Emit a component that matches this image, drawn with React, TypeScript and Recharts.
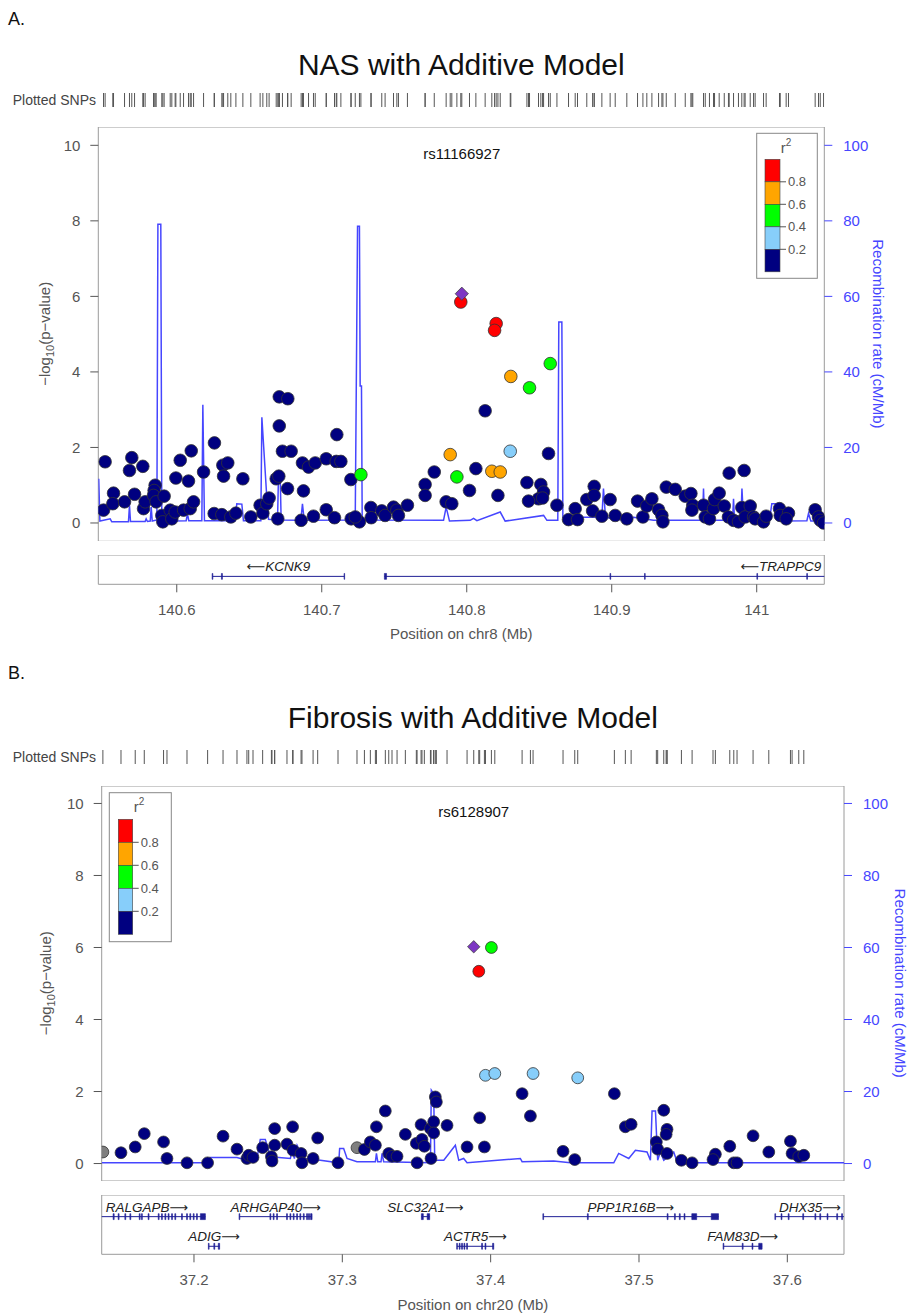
import React from 'react'
import { ComposedChart, Scatter, Line, XAxis, YAxis, ReferenceArea, ReferenceLine } from 'recharts'

const FONT = '"Liberation Sans", Arial, Helvetica, sans-serif'
const W = 912
const TEXT_GRAY = '#555555'
const FRAME = '#9a9a9a'
const RECOMB_BLUE = '#4646ff'
const GENE_BLUE = '#1f1f96'
const LEAD_PURPLE = '#7d37c3'
const NO_LD_GRAY = '#7f7f7f'

// r2 legend
const ldBreaks = [0.2, 0.4, 0.6, 0.8]
const ldColors = ['#000080', '#87cefa', '#00ff00', '#ffa500', '#ff0000']

const yTicks = [0, 2, 4, 6, 8, 10]
const recombTicks = [0, 20, 40, 60, 80, 100]
const yDomain: [number, number] = [-0.485, 10.485]
const recombDomain: [number, number] = [-4.85, 104.85]

// [position (Mb), -log10(p), r2]  r2: 1 = index SNP, null = no LD info
type Snp = [number, number, number | null]
type Gene = { name: string; strand: '+' | '-'; row: number; start: number; end: number; exons: [number, number][] }

// ---------- Panel A : NAS, chr8 ----------
const xTicksA = [140.6, 140.7, 140.8, 140.9, 141]
const domainA: [number, number] = [140.5459, 141.0466]

const snpsA: Snp[] = [
  [140.5506, 1.62, 0.1], [140.5495, 0.34, 0.1], [140.5564, 0.79, 0.1], [140.5559, 0.51, 0.1], [140.564, 0.56, 0.1],
  [140.569, 1.73, 0.1], [140.5674, 1.39, 0.1], [140.5766, 1.5, 0.1], [140.5709, 0.76, 0.1], [140.5771, 0.38, 0.1],
  [140.5782, 0.56, 0.1], [140.5851, 1.0, 0.1], [140.5844, 0.86, 0.1], [140.584, 0.73, 0.1], [140.5858, 0.56, 0.1],
  [140.5913, 0.71, 0.1], [140.5897, 0.2, 0.1], [140.5904, 0.03, 0.1], [140.5955, 0.34, 0.1], [140.5966, 0.11, 0.1],
  [140.5989, 0.29, 0.1], [140.5994, 1.19, 0.1], [140.6024, 1.66, 0.1], [140.6081, 1.11, 0.1], [140.61, 1.91, 0.1],
  [140.6047, 0.34, 0.1], [140.6093, 0.38, 0.1], [140.6116, 0.56, 0.1], [140.6185, 1.35, 0.1], [140.626, 2.12, 0.1],
  [140.6258, 0.25, 0.1], [140.6311, 0.22, 0.1], [140.6318, 1.53, 0.1], [140.6352, 1.59, 0.1], [140.6323, 1.24, 0.1],
  [140.6373, 0.16, 0.1], [140.6408, 0.26, 0.1], [140.6456, 1.17, 0.1], [140.6511, 0.16, 0.1], [140.6575, 0.47, 0.1],
  [140.6594, 0.26, 0.1], [140.6621, 0.51, 0.1], [140.6637, 0.66, 0.1], [140.6686, 1.17, 0.1], [140.6704, 1.24, 0.1],
  [140.6707, 3.34, 0.1], [140.6766, 3.29, 0.1], [140.6707, 2.57, 0.1], [140.6729, 1.9, 0.1], [140.6789, 1.9, 0.1],
  [140.6697, 0.11, 0.1], [140.6764, 0.91, 0.1], [140.6867, 1.59, 0.1], [140.6909, 1.48, 0.1], [140.6955, 1.59, 0.1],
  [140.6874, 0.85, 0.1], [140.6858, 0.07, 0.1], [140.6943, 0.18, 0.1], [140.7031, 1.7, 0.1], [140.7104, 2.34, 0.1],
  [140.71, 1.63, 0.1], [140.7132, 1.63, 0.1], [140.7031, 0.35, 0.1], [140.7088, 0.14, 0.1], [140.7201, 1.15, 0.1],
  [140.727, 1.28, 0.5], [140.7203, 0.11, 0.1], [140.726, 0.03, 0.1], [140.7231, 0.16, 0.1], [140.7339, 0.41, 0.1],
  [140.7341, 0.14, 0.1], [140.7414, 0.32, 0.1], [140.7437, 0.2, 0.1], [140.7495, 0.42, 0.1], [140.7518, 0.34, 0.1],
  [140.7529, 0.2, 0.1], [140.7591, 0.47, 0.1], [140.7713, 1.02, 0.1], [140.7713, 0.73, 0.1], [140.7776, 1.35, 0.1],
  [140.7858, 0.56, 0.1], [140.7897, 0.51, 0.1], [140.7886, 1.81, 0.7], [140.7932, 1.22, 0.5], [140.7966, 6.07, 1],
  [140.7959, 5.85, 0.9], [140.8203, 5.28, 0.9], [140.8192, 5.1, 0.9], [140.8304, 3.88, 0.7], [140.8433, 3.58, 0.5],
  [140.8576, 4.22, 0.5], [140.8127, 2.97, 0.1], [140.83, 1.9, 0.3], [140.8564, 1.84, 0.1], [140.8063, 1.44, 0.1],
  [140.8019, 0.86, 0.1], [140.8173, 1.37, 0.7], [140.8231, 1.35, 0.7], [140.8215, 0.73, 0.1], [140.8415, 1.07, 0.1],
  [140.8511, 1.02, 0.1], [140.853, 0.82, 0.1], [140.8495, 0.64, 0.1], [140.8523, 0.66, 0.1], [140.8426, 0.58, 0.1],
  [140.8622, 0.47, 0.1], [140.8702, 0.09, 0.1], [140.8748, 0.38, 0.1], [140.8764, 0.09, 0.1], [140.8828, 0.62, 0.1],
  [140.8879, 0.97, 0.1], [140.8879, 0.73, 0.1], [140.8868, 0.32, 0.1], [140.8932, 0.18, 0.1], [140.8989, 0.62, 0.1],
  [140.9024, 0.2, 0.1], [140.9104, 0.11, 0.1], [140.9178, 0.58, 0.1], [140.9215, 0.16, 0.1], [140.9242, 0.45, 0.1],
  [140.9277, 0.64, 0.1], [140.9323, 0.35, 0.1], [140.9346, 0.2, 0.1], [140.9353, 0.03, 0.1], [140.9376, 0.95, 0.1],
  [140.9438, 0.89, 0.1], [140.9507, 0.71, 0.1], [140.9546, 0.78, 0.1], [140.9559, 0.47, 0.1], [140.9553, 0.34, 0.1],
  [140.9633, 0.47, 0.1], [140.9645, 0.16, 0.1], [140.9674, 0.11, 0.1], [140.9702, 0.38, 0.1], [140.9709, 0.62, 0.1],
  [140.9741, 0.79, 0.1], [140.9776, 0.45, 0.1], [140.981, 1.32, 0.1], [140.9913, 1.39, 0.1], [140.9805, 0.16, 0.1],
  [140.984, 0.07, 0.1], [140.9874, 0.03, 0.1], [140.9897, 0.41, 0.1], [140.992, 0.16, 0.1], [140.9955, 0.45, 0.1],
  [140.9978, 0.16, 0.1], [140.9989, 0.11, 0.1], [141.0047, 0.03, 0.1], [141.0065, 0.18, 0.1], [141.0157, 0.38, 0.1],
  [141.0162, 0.2, 0.1], [141.0219, 0.26, 0.1], [141.0203, 0.11, 0.1], [141.0403, 0.35, 0.1], [141.0426, 0.16, 0.1],
  [141.0438, 0.07, 0.1], [141.0461, 0.0, 0.1],
]

// [position (Mb), recombination rate (cM/Mb)]
const recombA: [number, number][] = [
  [140.5462, 11.7], [140.547, 0.5], [140.5541, 1.1], [140.5552, 0.3], [140.5667, 0.3], [140.5674, 4.7], [140.5681, 0.4],
  [140.5782, 0.4], [140.5789, 1.1], [140.5798, 0.4], [140.5817, 0.5], [140.5824, 4.2], [140.5831, 0.5], [140.5863, 0.8],
  [140.587, 79.1], [140.589, 79.1], [140.5897, 0.6], [140.5966, 1.0], [140.5978, 0.5], [140.6065, 0.6], [140.6074, 2.4],
  [140.6083, 0.6], [140.6173, 0.6], [140.618, 31.3], [140.6191, 0.6], [140.6403, 0.6], [140.6414, 5.1], [140.6449, 5.0],
  [140.646, 0.6], [140.658, 0.6], [140.6587, 28.0], [140.6621, 6.8], [140.6633, 1.0], [140.6695, 0.8], [140.6702, 13.0],
  [140.6713, 13.0], [140.672, 0.8], [140.6856, 0.7], [140.6867, 5.1], [140.6879, 0.7], [140.7231, 0.8], [140.7247, 78.6],
  [140.726, 78.6], [140.7265, 36.3], [140.7274, 36.3], [140.7279, 0.8], [140.784, 0.7], [140.7858, 4.2], [140.7881, 0.5],
  [140.8024, 0.7], [140.8047, 1.2], [140.807, 0.6], [140.8231, 2.9], [140.8265, 0.5], [140.853, 2.0], [140.8553, 0.7],
  [140.8628, 0.7], [140.8635, 53.2], [140.8656, 53.2], [140.8663, 1.5], [140.8932, 1.5], [140.8943, 9.1], [140.8957, 1.5],
  [140.9081, 0.7], [140.915, 1.5], [140.9288, 0.7], [140.9626, 0.7], [140.9633, 9.1], [140.964, 0.7], [140.9833, 0.7],
  [140.984, 6.4], [140.9847, 0.7], [140.9891, 0.7], [140.9898, 9.1], [140.9909, 0.9], [141.0088, 0.7], [141.0104, 5.1],
  [141.0134, 5.1], [141.0157, 0.5], [141.0346, 0.6], [141.0357, 2.5], [141.0373, 0.5], [141.0466, 0.5],
]

const genesA: Gene[] = [
  { name: 'KCNK9', strand: '-', row: 0, start: 140.6246, end: 140.7156,
    exons: [[140.6244, 140.6249], [140.6308, 140.6315], [140.7154, 140.7158]] },
  { name: 'TRAPPC9', strand: '-', row: 0, start: 140.7432, end: 141.4687,
    exons: [[140.7432, 140.7447], [140.8988, 140.8993], [140.9226, 140.9231], [141.0001, 141.0006], [141.0345, 141.035]] },
]

// ---------- Panel B : Fibrosis, chr20 ----------
const xTicksB = [37.2, 37.3, 37.4, 37.5, 37.6]
const domainB: [number, number] = [37.1378, 37.6382]

const snpsB: Snp[] = [
  [37.1386, 0.32, null], [37.1508, 0.3, 0.1], [37.1604, 0.46, 0.1], [37.1665, 0.83, 0.1], [37.1795, 0.6, 0.1],
  [37.1818, 0.14, 0.1], [37.1953, 0.02, 0.1], [37.2092, 0.02, 0.1], [37.2196, 0.76, 0.1], [37.229, 0.4, 0.1],
  [37.2357, 0.14, 0.1], [37.2369, 0.23, 0.1], [37.2398, 0.17, 0.1], [37.2463, 0.44, 0.1], [37.2544, 0.97, 0.1],
  [37.2544, 0.51, 0.1], [37.2522, 0.19, 0.1], [37.2526, 0.07, 0.1], [37.2627, 0.54, 0.1], [37.2665, 1.02, 0.1],
  [37.2668, 0.37, 0.1], [37.2722, 0.28, 0.1], [37.2728, 0.02, 0.1], [37.2803, 0.14, 0.1], [37.2834, 0.71, 0.1],
  [37.2971, 0.02, 0.1], [37.3099, 0.44, null], [37.3149, 0.39, 0.1], [37.3189, 0.6, 0.1], [37.3223, 0.51, 0.1],
  [37.323, 1.02, 0.1], [37.329, 1.46, 0.1], [37.3313, 0.28, 0.1], [37.3335, 0.2, 0.1], [37.3369, 0.2, 0.1],
  [37.3425, 0.81, 0.1], [37.3499, 0.56, 0.1], [37.3504, 0.02, 0.1], [37.3531, 1.08, 0.1], [37.3537, 0.67, 0.1],
  [37.3553, 0.48, 0.1], [37.3594, 0.97, 0.1], [37.3598, 0.14, 0.1], [37.3616, 1.16, 0.1], [37.3616, 0.85, 0.1],
  [37.3627, 1.85, 0.1], [37.3634, 1.71, 0.1], [37.3706, 1.06, 0.1], [37.3841, 0.46, 0.1], [37.3886, 6.02, 1],
  [37.4005, 6.0, 0.5], [37.392, 5.34, 0.9], [37.3926, 1.27, 0.1], [37.3958, 0.46, 0.1], [37.3965, 2.45, 0.3],
  [37.4028, 2.5, 0.3], [37.4286, 2.5, 0.3], [37.4587, 2.38, 0.3], [37.4212, 1.94, 0.1], [37.4268, 1.32, 0.1],
  [37.4488, 0.34, 0.1], [37.4567, 0.11, 0.1], [37.4834, 1.94, 0.1], [37.4908, 1.02, 0.1], [37.4947, 1.09, 0.1],
  [37.5167, 1.48, 0.1], [37.5189, 0.95, 0.1], [37.5183, 0.81, 0.1], [37.5117, 0.6, 0.1], [37.5126, 0.4, 0.1],
  [37.5189, 0.28, 0.1], [37.5286, 0.09, 0.1], [37.5358, 0.02, 0.1], [37.5515, 0.26, 0.1], [37.5499, 0.11, 0.1],
  [37.5612, 0.48, 0.1], [37.5639, 0.02, 0.1], [37.5661, 0.02, 0.1], [37.5769, 0.77, 0.1], [37.5875, 0.32, 0.1],
  [37.6021, 0.62, 0.1], [37.6032, 0.28, 0.1], [37.6077, 0.19, 0.1], [37.6111, 0.23, 0.1],
]

const recombB: [number, number][] = [
  [37.1378, 0.2], [37.2099, 0.2], [37.211, 1.7], [37.229, 1.7], [37.2313, 1.4], [37.2425, 1.4], [37.2447, 6.7],
  [37.2481, 6.7], [37.2515, 1.9], [37.265, 1.4], [37.2661, 3.7], [37.2677, 1.4], [37.2695, 5.1], [37.274, 1.4],
  [37.2852, 0.9], [37.2976, 0.2], [37.2982, 4.2], [37.3009, 4.2], [37.3032, 1.4], [37.3099, 0.5], [37.3223, 0.5],
  [37.323, 2.8], [37.3239, 0.5], [37.3261, 0.5], [37.3268, 2.8], [37.3279, 0.5], [37.3594, 0.2], [37.36, 20.4],
  [37.3616, 19.4], [37.3623, 0.9], [37.3684, 0.9], [37.3762, 5.1], [37.3785, 0.9], [37.3818, 1.4], [37.3841, 0.2],
  [37.42, 1.4], [37.4212, 0.5], [37.4425, 0.7], [37.4537, 0.2], [37.483, 0.2], [37.4863, 2.8], [37.4931, 1.4],
  [37.4976, 3.7], [37.5054, 3.2], [37.5077, 0.9], [37.5088, 14.6], [37.5111, 14.6], [37.5126, 0.9], [37.5144, 3.2],
  [37.5167, 0.9], [37.5234, 3.2], [37.5257, 0.5], [37.5302, 0.2], [37.6382, 0.2],
]

const genesB: Gene[] = [
  { name: 'RALGAPB', strand: '+', row: 0, start: 37.101, end: 37.2077,
    exons: [[37.1455, 37.1462], [37.1489, 37.1495], [37.1534, 37.154], [37.1568, 37.1574], [37.1631, 37.1637],
      [37.1646, 37.1652], [37.1691, 37.1697], [37.1759, 37.1765], [37.1781, 37.1787], [37.1804, 37.181],
      [37.1826, 37.1832], [37.1849, 37.1855], [37.1871, 37.1877], [37.1916, 37.1922], [37.195, 37.1956],
      [37.1972, 37.1978], [37.1995, 37.2001], [37.2017, 37.2023], [37.2043, 37.2077]] },
  { name: 'ARHGAP40', strand: '+', row: 0, start: 37.2306, end: 37.2796,
    exons: [[37.2304, 37.2309], [37.2512, 37.2518], [37.2534, 37.254], [37.2557, 37.2563], [37.2624, 37.263],
      [37.2647, 37.2653], [37.2669, 37.2675], [37.2692, 37.2698], [37.2714, 37.272], [37.2737, 37.2743],
      [37.2759, 37.2766], [37.2772, 37.2779], [37.2786, 37.2796]] },
  { name: 'SLC32A1', strand: '+', row: 0, start: 37.3533, end: 37.3589,
    exons: [[37.3533, 37.3546], [37.3572, 37.3589]] },
  { name: 'PPP1R16B', strand: '+', row: 0, start: 37.4354, end: 37.5536,
    exons: [[37.4352, 37.4357], [37.4652, 37.4658], [37.519, 37.5196], [37.5239, 37.5245], [37.5272, 37.5278],
      [37.5304, 37.531], [37.5356, 37.5389], [37.5487, 37.5536]] },
  { name: 'DHX35', strand: '+', row: 0, start: 37.5918, end: 37.668,
    exons: [[37.5916, 37.5921], [37.5958, 37.5964], [37.6006, 37.6012], [37.6104, 37.611], [37.6186, 37.6192],
      [37.6219, 37.6225], [37.6268, 37.6274], [37.6333, 37.6339], [37.6366, 37.6372]] },
  { name: 'ADIG', strand: '+', row: 1, start: 37.2099, end: 37.2173,
    exons: [[37.2097, 37.2102], [37.2134, 37.214], [37.2164, 37.2173]] },
  { name: 'ACTR5', strand: '+', row: 1, start: 37.3773, end: 37.4021,
    exons: [[37.3771, 37.3776], [37.3788, 37.3794], [37.3804, 37.381], [37.382, 37.3826], [37.3838, 37.3844],
      [37.3939, 37.3945], [37.3962, 37.3968], [37.4013, 37.4021]] },
  { name: 'FAM83D', strand: '+', row: 1, start: 37.5569, end: 37.583,
    exons: [[37.5567, 37.5572], [37.5696, 37.5702], [37.5762, 37.5768], [37.5807, 37.583]] },
]

const panelA = {
  letter: 'A.', title: 'NAS with Additive Model', lead: 'rs11166927', chr: 'chr8',
  snps: snpsA, recomb: recombA, genes: genesA, geneRows: 1, domain: domainA, xTicks: xTicksA,
  L: {
    letterY: 25, titleY: 75, titleSize: 30, rugY: 100,
    left: 98.3, right: 824.3, top: 126.7, bottom: 541,
    geneTop: 555, geneBottom: 584.3, xTitleY: 639,
    leftTitleX: 45, rightTitleX: 878, pointR: 6.3,
    legend: { x: 756.7, y: 133.3, w: 60.6, h: 145, barX: 765, barY: 159.3, barW: 15, segH: 22.5, r2X: 786, r2Y: 153 },
  },
}

const panelB = {
  letter: 'B.', title: 'Fibrosis with Additive Model', lead: 'rs6128907', chr: 'chr20',
  snps: snpsB, recomb: recombB, genes: genesB, geneRows: 2, domain: domainB, xTicks: xTicksB,
  L: {
    letterY: 679, titleY: 728, titleSize: 30, rugY: 757,
    left: 101.7, right: 844, top: 785.7, bottom: 1180.7,
    geneTop: 1195, geneBottom: 1254.3, xTitleY: 1310,
    leftTitleX: 46, rightTitleX: 900, pointR: 5.9,
    legend: { x: 109.3, y: 792.7, w: 62, h: 149, barX: 118.3, barY: 819.3, barW: 14.4, segH: 23, r2X: 139, r2Y: 812 },
  },
}

function ldColor(r2: number | null) {
  if (r2 == null) return NO_LD_GRAY
  let i = 0
  while (i < ldBreaks.length && r2 >= ldBreaks[i]) i++
  return ldColors[i]
}

function Panel({ cfg }: { cfg: typeof panelA }) {
  const L = cfg.L
  const plotH = L.bottom - L.top
  const midY = L.top + plotH / 2
  const points = [...cfg.snps]
    .sort((a, b) => (a[2] ?? -1) - (b[2] ?? -1))
    .map(([pos, logp, r2]) => ({ pos, logp, r2 }))
  const recomb = cfg.recomb.map(([pos, rate]) => ({ pos, rate }))
  const lead = cfg.snps.find((s) => s[2] === 1)!
  const rug = cfg.snps.map(([pos]) => ({ pos, y: 0 }))
  const [d0, d1] = cfg.domain
  const clamp = (v: number) => Math.min(d1, Math.max(d0, v))

  const rows = cfg.geneRows
  const geneH = L.geneBottom - L.geneTop
  const rowY = (r: number) => rows - r - 1 + 0.27
  const geneLabels = cfg.genes.map((g) => ({
    pos: clamp((g.start + g.end) / 2),
    y: rowY(g.row),
    name: g.name,
    strand: g.strand,
  }))

  const r = L.pointR
  const dotShape = (p: any) => {
    const { cx, cy, payload } = p
    if (cx == null || cy == null) return <g />
    if (payload.r2 === 1) {
      const d = r * 1.05
      return (
        <path d={`M${cx},${cy - d}L${cx + d},${cy}L${cx},${cy + d}L${cx - d},${cy}Z`}
          fill={LEAD_PURPLE} stroke="#444" strokeWidth={0.8} />
      )
    }
    return <circle cx={cx} cy={cy} r={r} fill={ldColor(payload.r2)} stroke="#333" strokeWidth={0.8} />
  }
  const rsShape = (p: any) => (
    <text x={p.cx} y={p.cy} textAnchor="middle" dominantBaseline="central" fontSize={15} fill="#111" fontFamily={FONT}>
      {cfg.lead}
    </text>
  )
  const rugShape = (p: any) => <line x1={p.cx} x2={p.cx} y1={p.cy - 7} y2={p.cy + 7} stroke="#555" strokeWidth={1} />
  const geneLabelShape = (p: any) => {
    const fs = 13.5
    const { name, strand } = p.payload
    const est = (name.length * 0.66 + 1.2) * fs
    let x = p.cx
    let anchor = 'middle'
    if (x + est / 2 > L.right - 2) { x = L.right - 3; anchor = 'end' }
    else if (x - est / 2 < L.left + 2) { x = L.left + 4; anchor = 'start' }
    const arrow = (
      <tspan fontFamily="DejaVu Sans" fontStyle="normal" fontSize={13}>{strand === '+' ? '\u27F6' : '\u27F5'}</tspan>
    )
    return (
      <text x={x} y={p.cy - 5} textAnchor={anchor} fontSize={fs} fontStyle="italic" fill="#222" fontFamily={FONT}>
        {strand === '-' && arrow}
        {name}
        {strand === '+' && arrow}
      </text>
    )
  }

  const tickStyle = { fill: TEXT_GRAY, fontSize: 15, fontFamily: FONT }
  const lg = L.legend

  return (
    <>
      {/* Plotted SNPs rug */}
      <div style={{ position: 'absolute', left: 0, top: L.rugY - 8 }}>
        <ComposedChart width={W} height={16} margin={{ top: 0, bottom: 0, left: L.left, right: W - L.right }}>
          <XAxis type="number" dataKey="pos" domain={cfg.domain} allowDataOverflow hide />
          <YAxis type="number" domain={[-1, 1]} hide />
          <Scatter data={rug} dataKey="y" shape={rugShape} isAnimationActive={false} />
        </ComposedChart>
      </div>

      {/* association plot */}
      <div style={{ position: 'absolute', left: 0, top: L.top }}>
        <ComposedChart width={W} height={plotH} margin={{ top: 0, bottom: 0, left: 0, right: 0 }}>
          <XAxis type="number" dataKey="pos" domain={cfg.domain} allowDataOverflow hide />
          <YAxis yAxisId="left" orientation="left" type="number" domain={yDomain} allowDataOverflow ticks={yTicks}
            width={L.left} axisLine={false} tickSize={8} tickMargin={10} tickLine={{ stroke: TEXT_GRAY }}
            tick={tickStyle} interval={0} />
          <YAxis yAxisId="right" orientation="right" type="number" domain={recombDomain} allowDataOverflow
            ticks={recombTicks} width={W - L.right} axisLine={false} tickSize={8} tickMargin={11}
            tickLine={{ stroke: RECOMB_BLUE }} tick={{ ...tickStyle, fill: RECOMB_BLUE }} interval={0} />
          <ReferenceArea yAxisId="left" x1={d0} x2={d1} y1={yDomain[0]} y2={yDomain[1]} fill="none"
            stroke={FRAME} strokeWidth={1} ifOverflow="visible" />
          <Line yAxisId="right" data={recomb} dataKey="rate" type="linear" dot={false} stroke={RECOMB_BLUE}
            strokeWidth={1.5} isAnimationActive={false} />
          <Scatter yAxisId="left" data={points} dataKey="logp" shape={dotShape} isAnimationActive={false} />
          <Scatter yAxisId="left" data={[{ pos: lead[0], logp: 9.79 }]} dataKey="logp" shape={rsShape}
            isAnimationActive={false} />
        </ComposedChart>
      </div>

      {/* gene track + position axis */}
      <div style={{ position: 'absolute', left: 0, top: L.geneTop }}>
        <ComposedChart width={W} height={geneH + 40} margin={{ top: 0, bottom: 0, left: L.left, right: W - L.right }}>
          <XAxis type="number" dataKey="pos" domain={cfg.domain} allowDataOverflow ticks={cfg.xTicks} interval={0}
            height={40} axisLine={false} tickSize={8} tickMargin={12} tickLine={{ stroke: TEXT_GRAY }} tick={tickStyle} />
          <YAxis type="number" domain={[0, rows]} allowDataOverflow hide />
          <ReferenceArea x1={d0} x2={d1} y1={0} y2={rows} fill="none" stroke={FRAME} strokeWidth={1} ifOverflow="visible" />
          {cfg.genes.map((g) => (
            <ReferenceLine key={g.name} segment={[{ x: clamp(g.start), y: rowY(g.row) }, { x: clamp(g.end), y: rowY(g.row) }]}
              stroke={GENE_BLUE} strokeWidth={1} />
          ))}
          {cfg.genes.flatMap((g) =>
            g.exons.map(([s, e], i) => (
              <ReferenceArea key={`${g.name}-${i}`} x1={clamp(s)} x2={clamp(e)} y1={rowY(g.row) - 0.1} y2={rowY(g.row) + 0.1}
                fill={GENE_BLUE} fillOpacity={1} stroke={GENE_BLUE} strokeWidth={0.6} />
            )),
          )}
          <Scatter data={geneLabels} dataKey="y" shape={geneLabelShape} isAnimationActive={false} />
        </ComposedChart>
      </div>

      {/* titles, axis titles and r2 legend */}
      <svg width={W} height={1315} style={{ position: 'absolute', left: 0, top: 0, pointerEvents: 'none' }} fontFamily={FONT}>
        <text x={8} y={L.letterY} fontSize={18} fill="#111">{cfg.letter}</text>
        <text x={(L.left + L.right) / 2} y={L.titleY} fontSize={L.titleSize} textAnchor="middle" fill="#111">{cfg.title}</text>
        <text x={96} y={L.rugY + 5} fontSize={14} textAnchor="end" fill="#444">Plotted SNPs</text>
        <text transform={`translate(${L.leftTitleX},${midY}) rotate(-90)`} textAnchor="middle" dy="0.35em" fontSize={15} fill={TEXT_GRAY}>
          {'\u2212log'}<tspan fontSize={11} dy={4}>10</tspan><tspan dy={-4}>(p{'\u2212'}value)</tspan>
        </text>
        <text transform={`translate(${L.rightTitleX},${midY}) rotate(90)`} textAnchor="middle" dy="0.35em" fontSize={15} fill={RECOMB_BLUE}>
          Recombination rate (cM/Mb)
        </text>
        <text x={(L.left + L.right) / 2} y={L.xTitleY} textAnchor="middle" fontSize={15} fill={TEXT_GRAY}>
          Position on {cfg.chr} (Mb)
        </text>

        <rect x={lg.x} y={lg.y} width={lg.w} height={lg.h} fill="#fff" stroke="#888" strokeWidth={1} />
        <text x={lg.r2X} y={lg.r2Y} textAnchor="middle" fontSize={15} fill={TEXT_GRAY}>
          r<tspan fontSize={10} dy={-7}>2</tspan>
        </text>
        {[...ldColors].reverse().map((c, i) => (
          <rect key={c} x={lg.barX} y={lg.barY + i * lg.segH} width={lg.barW} height={lg.segH} fill={c} stroke="#444" strokeWidth={0.6} />
        ))}
        {[...ldBreaks].reverse().map((b, i) => {
          const y = lg.barY + (i + 1) * lg.segH
          return (
            <g key={b}>
              <line x1={lg.barX + lg.barW} x2={lg.barX + lg.barW + 6} y1={y} y2={y} stroke={TEXT_GRAY} />
              <text x={lg.barX + lg.barW + 8} y={y} dominantBaseline="central" fontSize={13} fill={TEXT_GRAY}>{b.toFixed(1)}</text>
            </g>
          )
        })}
      </svg>
    </>
  )
}

export default function App() {
  return (
    <div style={{ position: 'absolute', left: 0, top: 0, width: W, height: 1315, background: '#fff', fontFamily: FONT }}>
      <Panel cfg={panelA} />
      <Panel cfg={panelB} />
    </div>
  )
}
